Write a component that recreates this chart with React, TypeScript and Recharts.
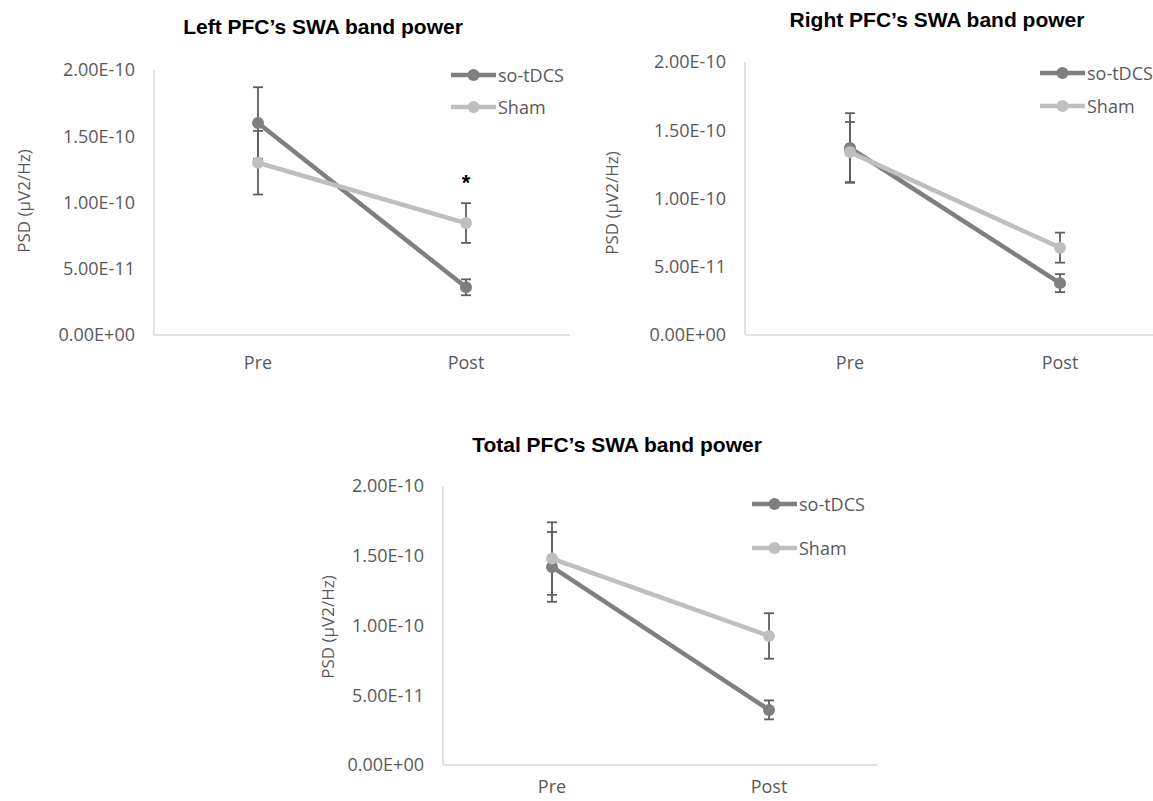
import React from 'react';
import { LineChart, Line, XAxis, YAxis, ErrorBar, Legend, LabelList } from 'recharts';

const phases = ['Pre', 'Post'];
const yTicks = [0, 5e-11, 1e-10, 1.5e-10, 2e-10];

// Left PFC
const leftTdcs = [1.6e-10, 3.6e-11];
const leftTdcsErr = [2.7e-11, 6e-12];
const leftSham = [1.3e-10, 8.45e-11];
const leftShamErr = [2.4e-11, 1.5e-11];
const leftMarks = ['', '*'];

// Right PFC
const rightTdcs = [1.37e-10, 3.8e-11];
const rightTdcsErr = [2.55e-11, 6.6e-12];
const rightSham = [1.34e-10, 6.4e-11];
const rightShamErr = [2.2e-11, 1.1e-11];
const rightMarks = ['', ''];

// Total PFC
const totalTdcs = [1.42e-10, 3.95e-11];
const totalTdcsErr = [2.5e-11, 6.8e-12];
const totalSham = [1.48e-10, 9.25e-11];
const totalShamErr = [2.6e-11, 1.63e-11];
const totalMarks = ['', ''];

const TDCS_COLOR = '#7f7f7f';
const SHAM_COLOR = '#bfbfbf';
const ERR_COLOR = '#5f5f5f';
const AXIS_COLOR = '#d9d9d9';
const TEXT_COLOR = '#595959';
const FONT = '"Open Sans", sans-serif';

const legendItems = [
    { name: 'so-tDCS', color: TDCS_COLOR },
    { name: 'Sham', color: SHAM_COLOR },
];

const buildRows = (tdcs: number[], tdcsErr: number[], sham: number[], shamErr: number[], marks: string[]) =>
    phases.map((phase, i) => ({
        phase,
        tdcs: tdcs[i],
        tdcsErr: tdcsErr[i],
        sham: sham[i],
        shamErr: shamErr[i],
        mark: marks[i],
    }));

const sci = (v: number) => {
    if (v === 0) return '0.00E+00';
    const [m, e] = v.toExponential(2).split('e');
    const n = parseInt(e, 10);
    return `${m}E${n < 0 ? '-' : '+'}${String(Math.abs(n)).padStart(2, '0')}`;
};

interface PanelProps {
    data: ReturnType<typeof buildRows>;
    left: number;
    top: number;
    width: number;
    height: number;
    yAxisWidth: number;
    marginTop: number;
    marginRight: number;
    xAxisHeight: number;
    xTickMargin: number;
    padLeft: number;
    padRight: number;
    title: string;
    titleX: number;
    titleY: number;
    yLabelX: number;
    yLabelY: number;
    legendX: number;
    legendY: number;
    legendGap: number;
}

const Panel: React.FC<PanelProps> = (p) => {
    const legendContent = () => (
        <div style={{ fontFamily: FONT, fontSize: 18, color: TEXT_COLOR }}>
            {legendItems.map((it) => (
                <div key={it.name} style={{ display: 'flex', alignItems: 'center', height: p.legendGap, whiteSpace: 'nowrap' }}>
                    <svg width={45} height={14}>
                        <line x1={0} y1={7} x2={45} y2={7} stroke={it.color} strokeWidth={4.5} />
                        <circle cx={22.5} cy={7} r={6} fill={it.color} />
                    </svg>
                    <span style={{ marginLeft: 2 }}>{it.name}</span>
                </div>
            ))}
        </div>
    );

    return (
        <>
            <div
                style={{
                    position: 'absolute',
                    left: p.titleX,
                    top: p.titleY,
                    transform: 'translate(-50%, -50%)',
                    fontFamily: '"Liberation Sans", Arial, sans-serif',
                    fontWeight: 'bold',
                    fontSize: 21,
                    whiteSpace: 'nowrap',
                    color: '#000',
                }}
            >
                {p.title}
            </div>
            <div
                style={{
                    position: 'absolute',
                    left: p.yLabelX,
                    top: p.yLabelY,
                    transform: 'translate(-50%, -50%) rotate(-90deg)',
                    fontFamily: FONT,
                    fontSize: 17,
                    color: TEXT_COLOR,
                    whiteSpace: 'nowrap',
                }}
            >
                PSD (µV2/Hz)
            </div>
            <div style={{ position: 'absolute', left: p.left, top: p.top }}>
                <LineChart
                    width={p.width}
                    height={p.height}
                    data={p.data}
                    margin={{ top: p.marginTop, right: p.marginRight, bottom: 0, left: 0 }}
                >
                    <XAxis
                        dataKey="phase"
                        height={p.xAxisHeight}
                        axisLine={{ stroke: AXIS_COLOR, strokeWidth: 1.5 }}
                        tickLine={false}
                        tickMargin={p.xTickMargin}
                        padding={{ left: p.padLeft, right: p.padRight }}
                        tick={{ fill: TEXT_COLOR, fontSize: 18, fontFamily: FONT }}
                    />
                    <YAxis
                        type="number"
                        width={p.yAxisWidth}
                        domain={[0, 2e-10]}
                        ticks={yTicks}
                        interval={0}
                        tickFormatter={sci}
                        axisLine={{ stroke: AXIS_COLOR, strokeWidth: 1.5 }}
                        tickLine={false}
                        tickMargin={13}
                        tick={{ fill: TEXT_COLOR, fontSize: 18, fontFamily: FONT }}
                    />
                    <Legend
                        layout="vertical"
                        align="center"
                        verticalAlign="middle"
                        content={legendContent}
                        wrapperStyle={{
                            left: p.legendX - p.left,
                            top: p.legendY - p.top - p.legendGap / 2,
                            right: 'auto',
                            bottom: 'auto',
                            width: 'auto',
                        }}
                    />
                    <Line
                        dataKey="tdcs"
                        name="so-tDCS"
                        stroke={TDCS_COLOR}
                        strokeWidth={4.5}
                        dot={{ r: 6, fill: TDCS_COLOR, stroke: 'none' }}
                        activeDot={false}
                        isAnimationActive={false}
                    >
                        <ErrorBar dataKey="tdcsErr" width={5} stroke={ERR_COLOR} strokeWidth={1.8} direction="y" />
                    </Line>
                    <Line
                        dataKey="sham"
                        name="Sham"
                        stroke={SHAM_COLOR}
                        strokeWidth={4.5}
                        dot={{ r: 6, fill: SHAM_COLOR, stroke: 'none' }}
                        activeDot={false}
                        isAnimationActive={false}
                    >
                        <ErrorBar dataKey="shamErr" width={5} stroke={ERR_COLOR} strokeWidth={1.8} direction="y" />
                        <LabelList
                            dataKey="mark"
                            content={(lp: any) =>
                                lp.value ? (
                                    <text
                                        x={lp.x}
                                        y={lp.y - 33}
                                        textAnchor="middle"
                                        fontFamily='"Liberation Sans", Arial, sans-serif'
                                        fontWeight="bold"
                                        fontSize={22}
                                        fill="#000"
                                    >
                                        {lp.value}
                                    </text>
                                ) : null
                            }
                        />
                    </Line>
                </LineChart>
            </div>
        </>
    );
};

export default function App() {
    const leftData = buildRows(leftTdcs, leftTdcsErr, leftSham, leftShamErr, leftMarks);
    const rightData = buildRows(rightTdcs, rightTdcsErr, rightSham, rightShamErr, rightMarks);
    const totalData = buildRows(totalTdcs, totalTdcsErr, totalSham, totalShamErr, totalMarks);

    return (
        <div style={{ position: 'absolute', left: 0, top: 0, width: 1153, height: 801, overflow: 'hidden', background: '#fff' }}>
            <Panel
                data={leftData}
                left={0} top={0} width={580} height={380}
                yAxisWidth={154} marginTop={70} marginRight={10} xAxisHeight={45} xTickMargin={15}
                padLeft={104} padRight={104}
                title="Left PFC’s SWA band power" titleX={323} titleY={27}
                yLabelX={23} yLabelY={201}
                legendX={451} legendY={75} legendGap={32}
            />
            <Panel
                data={rightData}
                left={580} top={0} width={573} height={380}
                yAxisWidth={165} marginTop={62} marginRight={0} xAxisHeight={45} xTickMargin={15}
                padLeft={105} padRight={93}
                title="Right PFC’s SWA band power" titleX={937} titleY={20}
                yLabelX={611} yLabelY={203}
                legendX={1040} legendY={73} legendGap={33}
            />
            <Panel
                data={totalData}
                left={300} top={420} width={590} height={381}
                yAxisWidth={143} marginTop={66} marginRight={13} xAxisHeight={36} xTickMargin={9}
                padLeft={109} padRight={108}
                title="Total PFC’s SWA band power" titleX={617} titleY={445}
                yLabelX={327} yLabelY={627}
                legendX={752} legendY={504} legendGap={44}
            />
        </div>
    );
}
